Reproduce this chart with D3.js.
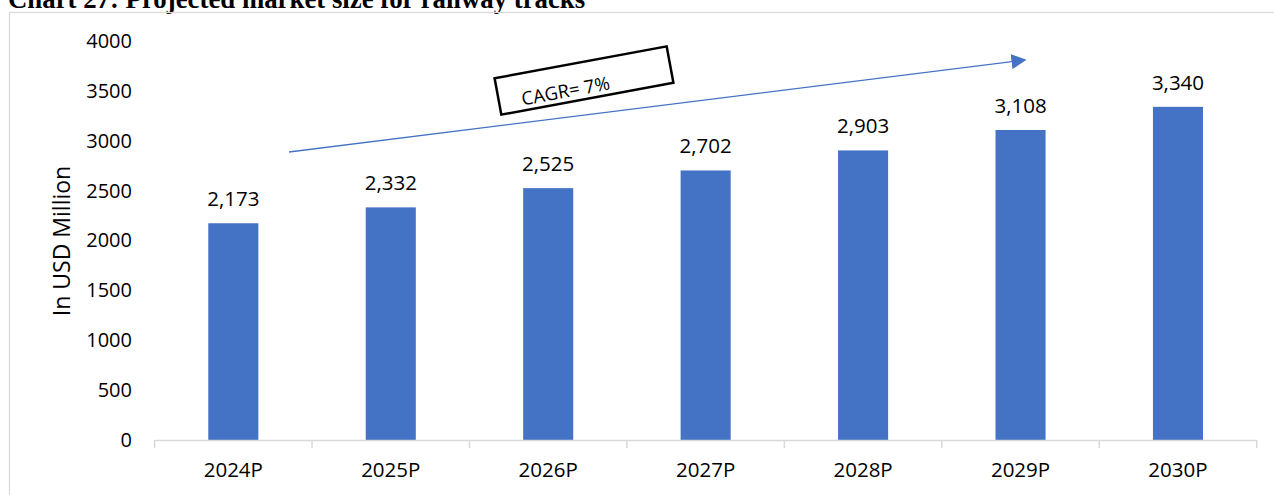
<!DOCTYPE html>
<html>
<head>
<meta charset="utf-8">
<script src="https://cdn.jsdelivr.net/npm/d3@7"></script>
<style>
  body { margin: 0; background: #fff; }
  svg { display: block; }
  text { font-family: "Open Sans", sans-serif; fill: #000; }
</style>
</head>
<body>
<script>
// Chart data
const years = ["2024P", "2025P", "2026P", "2027P", "2028P", "2029P", "2030P"];
const marketSize = [2173, 2332, 2525, 2702, 2903, 3108, 3340];
const yTicks = [0, 500, 1000, 1500, 2000, 2500, 3000, 3500, 4000];
const cagrLabel = "CAGR= 7%";

const width = 1274, height = 495;
const barColor = "#4472C4";

const svg = d3.select("body")
  .append("svg")
  .attr("width", width)
  .attr("height", height);

// title, cut off at the top like the scan
svg.append("text")
  .attr("x", 8)
  .attr("y", 8)
  .style("font-family", "'Liberation Serif', 'Times New Roman', serif")
  .style("font-weight", "bold")
  .style("font-size", "26.8px")
  .text("Chart 27: Projected market size for railway tracks");

// chart frame
svg.append("rect")
  .attr("x", 9.5)
  .attr("y", 12.5)
  .attr("width", 1270)
  .attr("height", 500)
  .attr("fill", "none")
  .attr("stroke", "#d9d9d9")
  .attr("stroke-width", 1.2);

const x = d3.scaleBand()
  .domain(years)
  .range([154.6, 1256.7])
  .paddingInner(0.682)
  .paddingOuter(0.341);

const y = d3.scaleLinear()
  .domain([0, 4000])
  .range([440, 41]);

// y axis labels only
const yAxis = svg.append("g")
  .attr("transform", "translate(155,0)")
  .call(d3.axisLeft(y).tickValues(yTicks).tickSize(0).tickPadding(23).tickFormat(d3.format("d")));
yAxis.select(".domain").remove();
yAxis.selectAll("text")
  .style("font-family", "'Open Sans', sans-serif")
  .style("font-size", "20px")
  .attr("fill", "#000");

// y axis title
svg.append("text")
  .attr("transform", "translate(61,241) rotate(-90)")
  .attr("text-anchor", "middle")
  .attr("dominant-baseline", "central")
  .style("font-size", "23px")
  .text("In USD Million");

// bars
svg.selectAll("rect.bar")
  .data(years)
  .enter()
  .append("rect")
  .attr("class", "bar")
  .attr("x", d => x(d))
  .attr("width", x.bandwidth())
  .attr("y", (d, i) => y(marketSize[i]))
  .attr("height", (d, i) => y(0) - y(marketSize[i]))
  .attr("fill", barColor);

// value labels
svg.selectAll("text.value")
  .data(years)
  .enter()
  .append("text")
  .attr("class", "value")
  .attr("x", d => x(d) + x.bandwidth() / 2)
  .attr("y", (d, i) => y(marketSize[i]) - 17)
  .attr("text-anchor", "middle")
  .style("font-size", "20.5px")
  .text((d, i) => d3.format(",")(marketSize[i]));

// x axis line with boundary ticks
const xAxis = svg.append("g");
const [x0, x1] = x.range();
xAxis.append("line")
  .attr("x1", x0).attr("x2", x1)
  .attr("y1", y(0) + 0.5).attr("y2", y(0) + 0.5)
  .attr("stroke", "#d9d9d9")
  .attr("stroke-width", 1.5);
xAxis.selectAll("line.tick")
  .data(d3.range(years.length + 1))
  .enter()
  .append("line")
  .attr("class", "tick")
  .attr("x1", i => x0 + i * x.step())
  .attr("x2", i => x0 + i * x.step())
  .attr("y1", y(0))
  .attr("y2", y(0) + 8)
  .attr("stroke", "#d9d9d9")
  .attr("stroke-width", 1.5);
xAxis.selectAll("text")
  .data(years)
  .enter()
  .append("text")
  .attr("x", d => x(d) + x.bandwidth() / 2)
  .attr("y", 469)
  .attr("text-anchor", "middle")
  .attr("dominant-baseline", "central")
  .style("font-size", "20.5px")
  .text(d => d);

// CAGR trend arrow
svg.append("defs")
  .append("marker")
  .attr("id", "arrow")
  .attr("viewBox", "0 0 10 10")
  .attr("refX", 9)
  .attr("refY", 5)
  .attr("markerWidth", 15)
  .attr("markerHeight", 15)
  .attr("markerUnits", "userSpaceOnUse")
  .attr("orient", "auto")
  .append("path")
  .attr("d", "M0,0 L10,5 L0,10 Z")
  .attr("fill", barColor);

svg.append("line")
  .attr("x1", 289).attr("y1", 152)
  .attr("x2", 1025).attr("y2", 60)
  .attr("stroke", barColor)
  .attr("stroke-width", 1.3)
  .attr("marker-end", "url(#arrow)");

// CAGR box
const cagr = svg.append("g")
  .attr("transform", "translate(584,80.5) rotate(-10.5)");
cagr.append("rect")
  .attr("x", -87.5)
  .attr("y", -18.5)
  .attr("width", 175)
  .attr("height", 37)
  .attr("fill", "#fff")
  .attr("stroke", "#000")
  .attr("stroke-width", 2.5);
cagr.append("text")
  .attr("x", -20)
  .attr("y", 6)
  .attr("text-anchor", "middle")
  .attr("dominant-baseline", "central")
  .style("font-size", "18.5px")
  .text(cagrLabel);
</script>
</body>
</html>
